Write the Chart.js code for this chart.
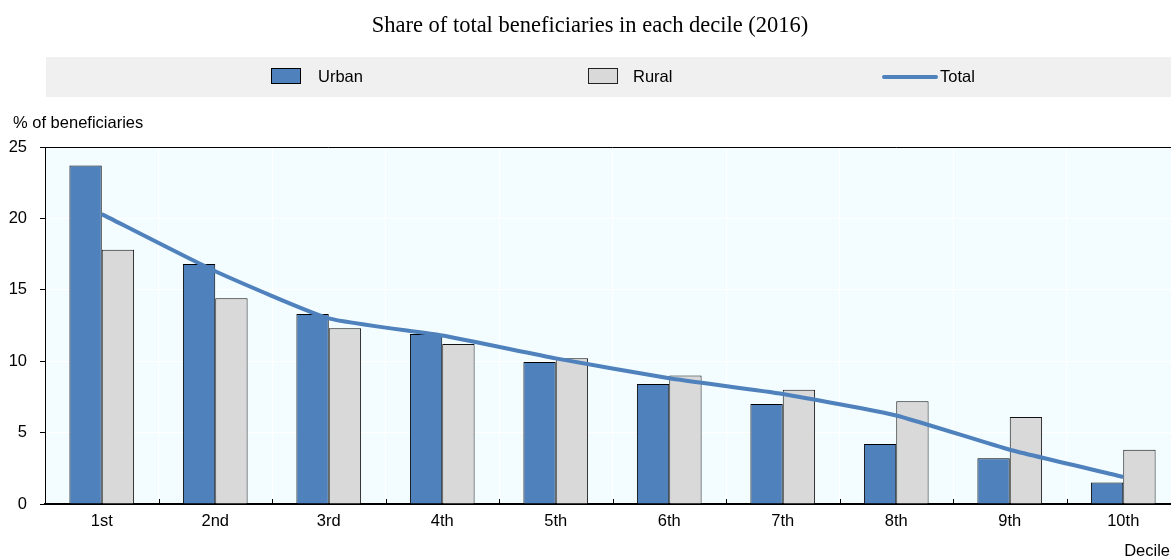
<!DOCTYPE html>
<html lang="en">
<head>
<meta charset="UTF-8">
<title>Share of total beneficiaries in each decile (2016)</title>
<style>
  html, body { margin: 0; padding: 0; background: #fff; overflow: hidden; }
  #wrap { width: 1190px; height: 559px; }
</style>
<script src="https://cdn.jsdelivr.net/npm/chart.js"></script>
</head>
<body>
<div id="wrap"><canvas id="chart" width="1190" height="559"></canvas></div>
<script>
// values
const deciles = ["1st", "2nd", "3rd", "4th", "5th", "6th", "7th", "8th", "9th", "10th"];
const urban = [23.7, 16.8, 13.3, 11.9, 9.95, 8.4, 7.0, 4.2, 3.2, 1.5];
const rural = [17.8, 14.4, 12.3, 11.2, 10.2, 9.0, 8.0, 7.2, 6.1, 3.8];
const total = [20.3, 16.3, 13.0, 11.8, 10.2, 8.8, 7.7, 6.2, 3.8, 1.9];
const yMin = 0, yMax = 25, yStep = 5;

const BLUE = '#4f81bd';
const GREY = '#d9d9d9';
const FONT = '"Liberation Sans", Arial, sans-serif';
const FSIZE = 16.5;

// plot background, legend band, top border, inner ticks, extra texts
const decor = {
  id: 'decor',
  beforeDraw(chart) {
    const { ctx, chartArea: a } = chart;
    ctx.save();
    ctx.fillStyle = '#f3fdff';
    ctx.fillRect(a.left, a.top, a.right - a.left, a.bottom - a.top);

    ctx.fillStyle = '#f0f0f0';
    ctx.fillRect(46, 57, chart.width - 46, 40);

    // legend
    ctx.lineWidth = 1;
    ctx.fillStyle = BLUE;
    ctx.strokeStyle = '#000';
    ctx.fillRect(271, 68, 29, 15);
    ctx.strokeRect(271.5, 68.5, 29, 15);
    ctx.fillStyle = GREY;
    ctx.strokeStyle = '#222';
    ctx.fillRect(588, 68, 29, 15);
    ctx.strokeRect(588.5, 68.5, 29, 15);
    ctx.strokeStyle = BLUE;
    ctx.lineWidth = 4;
    ctx.lineCap = 'round';
    ctx.beginPath();
    ctx.moveTo(884, 77);
    ctx.lineTo(936, 77);
    ctx.stroke();

    ctx.fillStyle = '#000';
    ctx.font = FSIZE + 'px ' + FONT;
    ctx.textBaseline = 'middle';
    ctx.textAlign = 'left';
    ctx.fillText('Urban', 318, 77);
    ctx.fillText('Rural', 633, 77);
    ctx.fillText('Total', 940, 77);
    ctx.fillText('% of beneficiaries', 13, 123);
    ctx.textAlign = 'right';
    ctx.fillText('Decile', 1170, 551);
    ctx.restore();
  },
  afterDatasetsDraw(chart) {
    const { ctx, chartArea: a, scales: { x } } = chart;
    ctx.save();
    ctx.strokeStyle = '#000';
    ctx.lineWidth = 1;
    ctx.beginPath();
    ctx.moveTo(a.left, a.top + 0.5);
    ctx.lineTo(a.right, a.top + 0.5);
    for (let i = 1; i < deciles.length; i++) {
      const bx = Math.round((x.getPixelForValue(i - 1) + x.getPixelForValue(i)) / 2) + 0.5;
      ctx.moveTo(bx, a.bottom);
      ctx.lineTo(bx, a.bottom - 5);
    }
    ctx.stroke();
    ctx.restore();
  }
};

new Chart(document.getElementById('chart'), {
  type: 'bar',
  data: {
    labels: deciles,
    datasets: [
      {
        type: 'line',
        label: 'Total',
        data: total,
        borderColor: BLUE,
        borderWidth: 4,
        pointRadius: 0,
        tension: 0.15,
        fill: false,
        order: 0
      },
      {
        label: 'Urban',
        data: urban,
        backgroundColor: BLUE,
        borderColor: '#000',
        borderWidth: 1,
        categoryPercentage: 0.57,
        barPercentage: 1.0,
        order: 1
      },
      {
        label: 'Rural',
        data: rural,
        backgroundColor: GREY,
        borderColor: '#111',
        borderWidth: 1,
        categoryPercentage: 0.57,
        barPercentage: 1.0,
        order: 2
      }
    ]
  },
  options: {
    responsive: false,
    animation: false,
    devicePixelRatio: 1,
    layout: { padding: { left: 0, right: 10, top: 0, bottom: 0 } },
    plugins: {
      legend: { display: false },
      tooltip: { enabled: false },
      title: {
        display: true,
        text: 'Share of total beneficiaries in each decile (2016)',
        color: '#000',
        font: { family: '"Liberation Serif", "Times New Roman", serif', size: 22.5, weight: 'normal' },
        padding: { top: 13, bottom: 107 }
      }
    },
    scales: {
      x: {
        offset: true,
        grid: {
          offset: true,
          drawTicks: false,
          color: ctx => ctx.index === 0 ? 'rgba(0,0,0,0)' : '#ffffff'
        },
        border: { display: true, color: '#000', width: 2 },
        ticks: { color: '#000', padding: 8, font: { family: FONT, size: FSIZE } },
        afterFit: s => { s.height = 55; }
      },
      y: {
        min: yMin,
        max: yMax,
        ticks: { stepSize: yStep, color: '#000', padding: 13, font: { family: FONT, size: FSIZE } },
        grid: {
          color: ctx => (ctx.tick && (ctx.tick.value === yMin || ctx.tick.value === yMax)) ? 'rgba(0,0,0,0)' : '#ffffff',
          tickColor: '#000',
          tickLength: 5
        },
        border: { display: true, color: '#000', width: 1 },
        afterFit: s => { s.width = 45; }
      }
    }
  },
  plugins: [decor]
});
</script>
</body>
</html>
